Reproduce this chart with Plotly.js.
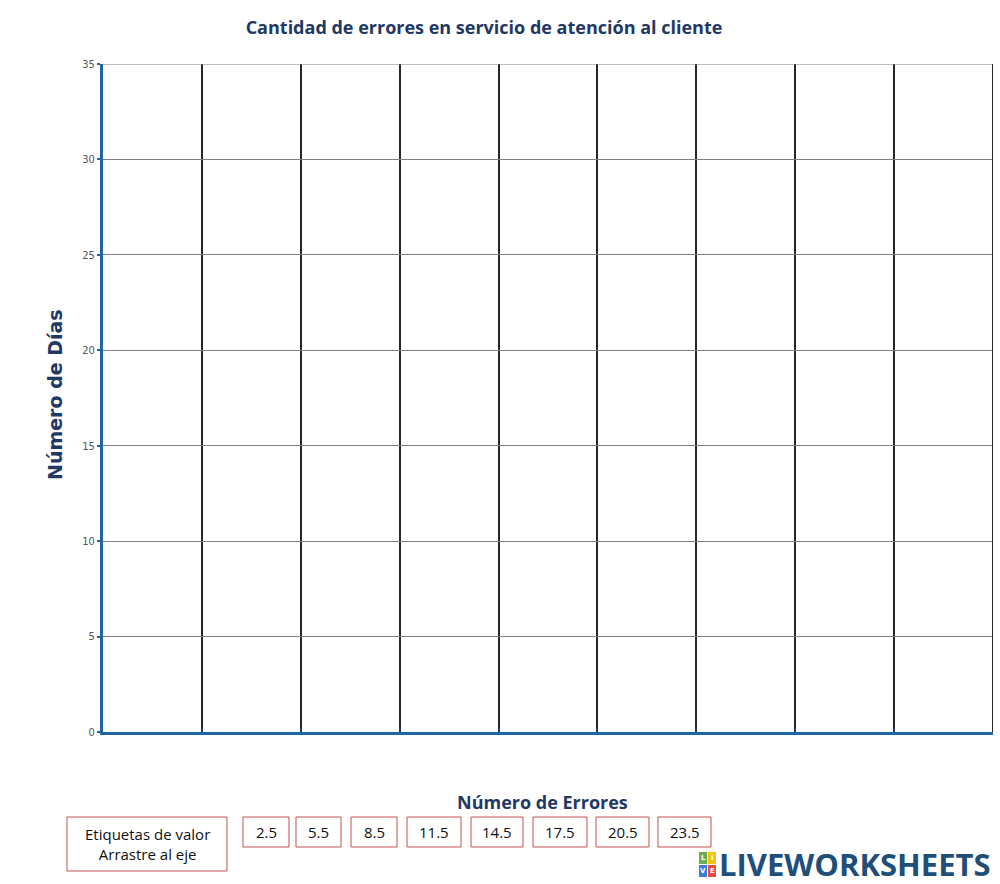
<!DOCTYPE html>
<html>
<head>
<meta charset="utf-8">
<script src="https://cdn.plot.ly/plotly-3.0.1.min.js"></script>
<style>html,body{margin:0;padding:0;background:#fff;}#chart{width:1000px;height:884px;}</style>
</head>
<body>
<div id="chart"></div>
<script>
// Data near top
const chartTitle = 'Cantidad de errores en servicio de atención al cliente';
const xTitle = 'Número de Errores';
const yTitle = 'Número de Días';
const yTicks = [0, 5, 10, 15, 20, 25, 30, 35];
const xGridVals = [0, 3, 6, 9, 12, 15, 18, 21, 24, 27];
const valueLabels = ['2.5', '5.5', '8.5', '11.5', '14.5', '17.5', '20.5', '23.5'];
const instructionLines = ['Etiquetas de valor', 'Arrastre al eje'];
const brandText = 'LIVEWORKSHEETS';

// Layout helpers (pixel -> paper)
const L = 103, R = 993, T = 64, B = 732;
const px = p => (p - L) / (R - L);
const py = p => (B - p) / (B - T);

const xMax = xGridVals[xGridVals.length - 1];
const yMax = yTicks[yTicks.length - 1];

const boxX = [[243,289],[296,341],[351,397],[407,461],[471,523],[533,587],[596,649],[658,711]];
const boxColor = '#c0504d';
const shapes = [];
const annotations = [];

// boundary grid lines (Plotly omits grid lines at range ends)
shapes.push({type:'line', xref:'x', yref:'y', x0:0, x1:xMax, y0:yMax, y1:yMax, line:{color:'#7f7f7f', width:1}});
shapes.push({type:'line', xref:'x', yref:'y', x0:xMax, x1:xMax, y0:0, y1:yMax, line:{color:'#262626', width:2}});

// instruction box
shapes.push({type:'rect', xref:'paper', yref:'paper', x0:px(67), x1:px(227), y0:py(871), y1:py(817),
  line:{color:boxColor, width:1}, fillcolor:'rgba(0,0,0,0)'});
annotations.push({xref:'paper', yref:'paper', x:px(147), y:py(844), text:instructionLines.join('<br>'),
  showarrow:false, font:{family:'Open Sans, sans-serif', size:15, color:'#111'}, xanchor:'center', yanchor:'middle'});

valueLabels.forEach((lab, i) => {
  const [a, b] = boxX[i];
  shapes.push({type:'rect', xref:'paper', yref:'paper', x0:px(a), x1:px(b), y0:py(847), y1:py(817),
    line:{color:boxColor, width:1}, fillcolor:'rgba(0,0,0,0)'});
  annotations.push({xref:'paper', yref:'paper', x:px((a+b)/2), y:py(832), text:lab, showarrow:false,
    font:{family:'Open Sans, sans-serif', size:15, color:'#111'}, xanchor:'center', yanchor:'middle'});
});

// axis titles
annotations.push({xref:'paper', yref:'paper', x:px(542), y:py(802), text:'<b>'+xTitle+'</b>', showarrow:false,
  font:{family:'Open Sans, sans-serif', size:18, color:'#1f3864'}, xanchor:'center', yanchor:'middle'});
annotations.push({xref:'paper', yref:'paper', x:px(55), y:py(395), text:'<b>'+yTitle+'</b>', showarrow:false, textangle:-90,
  font:{family:'DejaVu Sans, sans-serif', size:19, color:'#1f3864'}, xanchor:'center', yanchor:'middle'});

// brand logo
const logoCols = [['#6ab04c','#f4c20d'],['#3b7dd8','#e74c3c']];
const logoLetters = [['L','I'],['V','E']];
for (let r = 0; r < 2; r++) for (let c = 0; c < 2; c++) {
  const x0 = 699 + c*9, y0 = 852 + r*13;
  shapes.push({type:'rect', xref:'paper', yref:'paper', x0:px(x0), x1:px(x0+8), y0:py(y0+12), y1:py(y0),
    line:{width:0}, fillcolor:logoCols[r][c]});
  annotations.push({xref:'paper', yref:'paper', x:px(x0+4), y:py(y0+6), text:'<b>'+logoLetters[r][c]+'</b>', showarrow:false,
    font:{family:'DejaVu Sans, sans-serif', size:7, color:'#fff'}, xanchor:'center', yanchor:'middle'});
}
annotations.push({xref:'paper', yref:'paper', x:px(717), y:py(864), text:'<b>'+brandText+'</b>', showarrow:false,
  font:{family:'Open Sans, sans-serif', size:31, color:'#1f4e79'}, xanchor:'left', yanchor:'middle'});

const data = [{x:[], y:[], type:'scatter', mode:'markers', showlegend:false, hoverinfo:'skip'}];

const layout = {
  width:1000, height:884,
  margin:{l:L, r:1000-R, t:T, b:884-B, pad:0},
  paper_bgcolor:'#fff', plot_bgcolor:'#fff',
  showlegend:false,
  title:{text:'<b>'+chartTitle+'</b>', x:px(484), xanchor:'center', xref:'paper', y:1-28/884, yanchor:'middle',
    font:{family:'Open Sans, sans-serif', size:18, color:'#1f3864'}},
  xaxis:{range:[0,xMax], tickmode:'array', tickvals:xGridVals, showticklabels:false,
    showgrid:true, gridcolor:'#262626', gridwidth:2, zeroline:false,
    showline:true, linecolor:'#1f66a6', linewidth:3, ticks:'inside', ticklen:4, tickcolor:'#1f3864', tickwidth:2,
    fixedrange:true},
  yaxis:{range:[0,yMax], tickmode:'array', tickvals:yTicks, ticktext:yTicks.map(String),
    showgrid:true, gridcolor:'#7f7f7f', gridwidth:1, zeroline:false,
    showline:true, linecolor:'#1f66a6', linewidth:3, ticks:'outside', ticklen:3, tickcolor:'#1f66a6', tickwidth:2,
    tickfont:{family:'DejaVu Sans Condensed, DejaVu Sans, sans-serif', size:11, color:'#555'},
    fixedrange:true},
  shapes:shapes,
  annotations:annotations
};

Plotly.newPlot('chart', data, layout, {displayModeBar:false, staticPlot:true});
</script>
</body>
</html>
